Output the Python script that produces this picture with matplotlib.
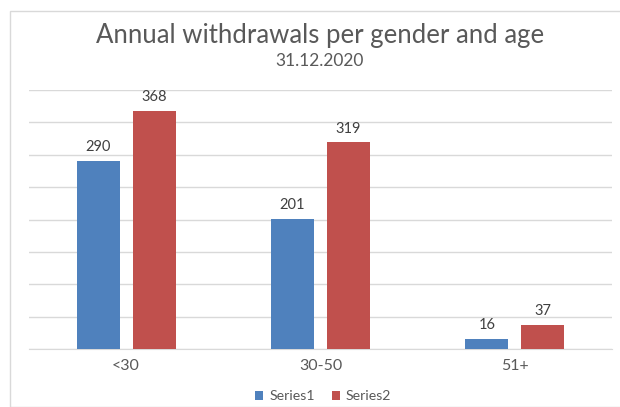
import matplotlib.pyplot as plt
from matplotlib.patches import Rectangle
import numpy as np

plt.rcParams['font.family'] = ['Lato', 'DejaVu Sans']

categories = ['<30', '30-50', '51+']
series1 = [290, 201, 16]
series2 = [368, 319, 37]
series_names = ['Series1', 'Series2']

blue = '#4F81BD'
red = '#C0504D'
text_col = '#595959'
grid_col = '#D9D9D9'

fig = plt.figure(figsize=(6.2, 4.07), dpi=100)
W, H = 620, 407

# light chart frame, runs off right and bottom edges
fig.patches.append(Rectangle((9.5 / W, 0), 1.0, 1 - 11 / H, transform=fig.transFigure,
                             fill=False, edgecolor='#D9D9D9', lw=1.0))

ax = fig.add_axes([29 / W, 1 - 349 / H, (612 - 29) / W, (349 - 90) / H])

x = np.arange(len(categories))
bw = 0.222
off = 0.144
b1 = ax.bar(x - off, series1, bw, color=blue, label=series_names[0], zorder=3)
b2 = ax.bar(x + off, series2, bw, color=red, label=series_names[1], zorder=3)

for bars in (b1, b2):
    for r in bars:
        ax.annotate(str(int(r.get_height())), (r.get_x() + r.get_width() / 2, r.get_height()),
                    xytext=(0, 5), textcoords='offset points', ha='center', va='bottom',
                    fontsize=10.5, color='#404040')

ax.set_xlim(-0.5, len(categories) - 0.5)
ax.set_ylim(0, 400)
ax.set_yticks(np.arange(0, 401, 50))
ax.yaxis.grid(True, color=grid_col, lw=1.0, zorder=0)
ax.tick_params(axis='y', length=0, labelleft=False)
ax.tick_params(axis='x', length=0, pad=7, labelsize=11.5, labelcolor=text_col)
ax.set_xticks(x)
ax.set_xticklabels(categories)
for s in ['top', 'right', 'left']:
    ax.spines[s].set_visible(False)
ax.spines['bottom'].set_color(grid_col)

fig.text(320 / W, 1 - 36 / H, 'Annual withdrawals per gender and age', ha='center', va='center',
         fontsize=18.5, color=text_col)
fig.text(320 / W, 1 - 61 / H, '31.12.2020', ha='center', va='center', fontsize=12.5, color=text_col)

fig.legend(loc='center', bbox_to_anchor=(323 / W, 1 - 396 / H), ncol=2, frameon=False,
           fontsize=10.2, labelcolor=text_col, handlelength=0.6, handleheight=0.6,
           handletextpad=0.4, columnspacing=1.2)

fig.savefig('out.png', dpi=100)
